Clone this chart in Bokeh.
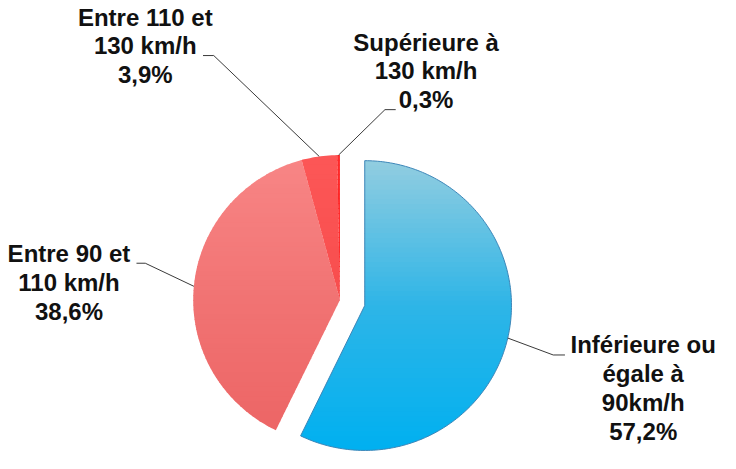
import numpy as np
from bokeh.plotting import figure
from bokeh.models import Range1d
from bokeh.core.properties import value
from bokeh.embed import file_html
from bokeh.resources import INLINE

# ---- data ----
categories = ["Inférieure ou égale à 90km/h", "Entre 90 et 110 km/h",
              "Entre 110 et 130 km/h", "Supérieure à 130 km/h"]
shares = [57.2, 38.6, 3.9, 0.3]
labels = ["Inférieure ou\négale à\n90km/h\n57,2%",
          "Entre 90 et\n110 km/h\n38,6%",
          "Entre 110 et\n130 km/h\n3,9%",
          "Supérieure à\n130 km/h\n0,3%"]

# ---- styles / layout ----
W, H = 720, 453          # pixels of the figure
VW, VH = 736, 469        # drawing space (reference pixels)
CX, CY, R = 347.0, 310.0, 150.0
explode = [26.0, 0.0, 0.0, 0.0]
# gradient stops (top, middle, bottom) per slice
grads = [["#92cde0", "#2eb5e7", "#00b0f0"],
         ["#f88686", "#f17373", "#ec6464"],
         ["#fc5757", "#f84d4d", "#f24444"],
         ["#ff2a2a", "#ff1a1a", "#f01010"]]
label_pos = [(657, 401), (70, 292), (148, 47), (435, 73)]
elbows = [((565, 367), (577, 367)), ((148, 272), (139, 272)),
          ((218, 57), (207, 57)), ((393, 113), (404, 113))]

p = figure(width=W, height=H, output_backend="svg", toolbar_location=None,
           x_range=Range1d(0, VW), y_range=Range1d(VH, 0),
           min_border=0, outline_line_color=None)
p.xaxis.visible = False
p.yaxis.visible = False
p.grid.visible = False
p.background_fill_color = "white"


def hex2rgb(h):
    return np.array([int(h[i:i + 2], 16) for i in (1, 3, 5)], float)


def color_at(stops, t):
    t = min(max(t, 0.0), 1.0)
    if t < 0.5:
        a, b, u = stops[0], stops[1], t / 0.5
    else:
        a, b, u = stops[1], stops[2], (t - 0.5) / 0.5
    c = hex2rgb(a) * (1 - u) + hex2rgb(b) * u
    return "#%02x%02x%02x" % tuple(int(round(v)) for v in c)


def clip_y(poly, y0, y1):
    def clip(pts, keep, inter):
        out = []
        n = len(pts)
        for i in range(n):
            a, b = pts[i], pts[(i + 1) % n]
            ka, kb = keep(a), keep(b)
            if ka:
                out.append(a)
            if ka != kb:
                out.append(inter(a, b))
        return out

    def ix(a, b, yy):
        t = (yy - a[1]) / (b[1] - a[1])
        return (a[0] + t * (b[0] - a[0]), yy)

    pts = clip(poly, lambda q: q[1] >= y0, lambda a, b: ix(a, b, y0))
    if not pts:
        return pts
    pts = clip(pts, lambda q: q[1] <= y1, lambda a, b: ix(a, b, y1))
    return pts


total = float(sum(shares))
cum = np.concatenate([[0.0], np.cumsum(shares)]) / total
for i, s in enumerate(shares):
    th0, th1 = cum[i] * 2 * np.pi, cum[i + 1] * 2 * np.pi
    mid = 0.5 * (th0 + th1)
    cx = CX + explode[i] * np.sin(mid)
    cy = CY - explode[i] * np.cos(mid)
    n = max(4, int(np.degrees(th1 - th0)))
    th = np.linspace(th0, th1, n)
    xs = np.concatenate([[cx], cx + R * np.sin(th)])
    ys = np.concatenate([[cy], cy - R * np.cos(th)])
    poly = list(zip(xs, ys))
    # gradient bands over the pie's bounding box
    top, bot = cy - R, cy + R
    nb = 60
    bxs, bys, cols = [], [], []
    for k in range(nb):
        y0 = top + (bot - top) * k / nb
        y1 = top + (bot - top) * (k + 1) / nb + 0.8
        part = clip_y(poly, y0, y1)
        if len(part) >= 3:
            bxs.append([q[0] for q in part])
            bys.append([q[1] for q in part])
            cols.append(color_at(grads[i], (k + 0.5) / nb))
    p.patches(bxs, bys, fill_color=cols, line_color=None)
    if i == 0:
        p.patch(xs, ys, fill_color=None, line_color="#3d86b8", line_width=1)
    # leader line
    sx = cx + R * np.sin(mid)
    sy = cy - R * np.cos(mid)
    (ex, ey), (hx, hy) = elbows[i]
    p.line([sx, ex, hx], [sy, ey, hy], line_color="#3a3a3a", line_width=1)

p.text(x=[q[0] for q in label_pos], y=[q[1] for q in label_pos], text=labels,
       text_font=value("Liberation Sans"), text_font_style="bold",
       text_font_size="24px", text_align="center", text_baseline="middle",
       text_line_height=1.07, text_color="#111111")

open("out.html", "w").write(file_html(p, INLINE))
